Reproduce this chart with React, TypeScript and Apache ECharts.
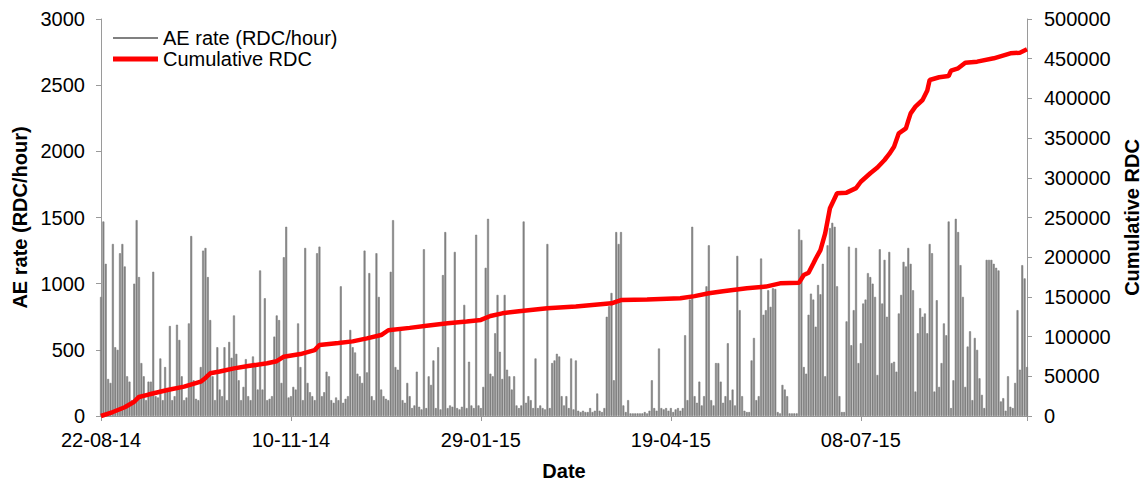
import React, { useEffect, useRef } from 'react';
import * as echarts from 'echarts';

// x axis: days since 22-08-14, a tick every 80 days
const xTickLabels = ['22-08-14', '10-11-14', '29-01-15', '19-04-15', '08-07-15'];

// AE rate (RDC/hour), one value per day (day 0 .. 390)
const aeRate = [
  900, 1470, 1150, 280, 250, 1300, 520, 500, 1230, 1300, // d0
  1130, 300, 260, 120, 1000, 1480, 1050, 400, 300, 120, // d10
  260, 260, 1090, 150, 140, 435, 120, 370, 200, 680, // d20
  120, 150, 690, 575, 300, 120, 140, 700, 1360, 270, // d30
  130, 120, 370, 1250, 1270, 1050, 725, 300, 120, 520, // d40
  200, 150, 520, 120, 560, 440, 760, 470, 270, 120, // d50
  220, 430, 150, 120, 450, 380, 200, 1100, 200, 890, // d60
  120, 130, 150, 600, 760, 725, 250, 1200, 1430, 140, // d70
  150, 220, 200, 700, 370, 120, 1270, 250, 180, 150, // d80
  120, 1230, 1280, 150, 180, 335, 300, 120, 100, 140, // d90
  120, 980, 100, 130, 150, 650, 520, 480, 320, 300, // d100
  250, 1250, 330, 1080, 150, 120, 1230, 900, 200, 150, // d110
  130, 120, 1090, 1480, 370, 350, 650, 120, 100, 250, // d120
  150, 60, 80, 335, 70, 50, 1260, 60, 300, 235, // d130
  420, 60, 520, 50, 1065, 1390, 60, 80, 70, 1240, // d140
  60, 50, 70, 840, 60, 410, 80, 60, 1370, 80, // d150
  60, 220, 1120, 1490, 320, 300, 625, 915, 485, 280, // d160
  915, 350, 300, 200, 300, 80, 60, 80, 1470, 100, // d170
  150, 120, 60, 435, 60, 80, 60, 50, 1300, 60, // d180
  400, 420, 470, 450, 150, 80, 150, 60, 435, 50, // d190
  420, 40, 30, 40, 30, 30, 60, 30, 40, 170, // d200
  40, 30, 60, 750, 830, 930, 270, 1390, 1300, 1390, // d210
  80, 30, 120, 20, 20, 20, 20, 20, 20, 30, // d220
  20, 40, 270, 60, 40, 510, 60, 50, 60, 40, // d230
  60, 30, 50, 60, 40, 60, 610, 120, 880, 1430, // d240
  150, 100, 260, 80, 150, 980, 1290, 120, 80, 400, // d250
  400, 260, 100, 150, 550, 120, 200, 80, 1210, 800, // d260
  150, 40, 30, 30, 420, 590, 120, 150, 1190, 765, // d270
  800, 950, 825, 965, 960, 30, 20, 235, 200, 150, // d280
  20, 20, 20, 20, 1410, 1330, 370, 320, 765, 925, // d290
  880, 675, 990, 920, 1150, 300, 1290, 1420, 1460, 1430, // d300
  980, 150, 30, 30, 715, 1280, 535, 800, 1270, 400, // d310
  550, 850, 880, 1080, 1050, 1000, 900, 310, 1260, 850, // d320
  1180, 750, 1240, 400, 410, 335, 775, 915, 1165, 1130, // d330
  1270, 1150, 950, 185, 625, 815, 750, 775, 625, 1300, // d340
  1230, 185, 875, 220, 400, 700, 610, 1470, 60, 270, // d350
  1490, 1390, 1140, 900, 220, 525, 640, 120, 590, 500, // d360
  285, 160, 60, 1180, 1180, 1180, 1150, 1120, 1100, 110, // d370
  135, 40, 300, 70, 60, 250, 800, 350, 1140, 1040, // d380
  370, // d390
];

// Cumulative RDC, read at these days
const cumDays = [
  0, 5, 10, 14, 16, 20, 28, 35, 42, 44, 46, 50, 56, 62, 70, 74, 77, 84, 90, 92,
  100, 106, 112, 118, 121, 130, 138, 146, 154, 160, 164, 169, 176, 188, 200, 215, 219, 230, 244, 250,
  256, 262, 272, 280, 286, 294, 296, 298, 300, 301, 303, 305, 307, 308, 310, 314, 318, 320, 324, 327,
  330, 332, 334, 336, 339, 340, 341, 343, 346, 348, 349, 353, 357, 358, 361, 364, 369, 376, 383, 387, 390,
];
const cumValues = [
  0, 5000, 11000, 18000, 24000, 27000, 32700, 37000, 43200, 48000, 53800, 56000, 60000, 63000, 66400, 69000, 74700, 78000, 83000, 89400,
  92000, 94000, 97800, 102000, 108000, 111000, 114000, 116700, 119000, 121000, 126000, 129300, 132000, 135600, 138000, 141900, 146000, 146800, 148200, 151000,
  154500, 157000, 160800, 163000, 167100, 167900, 177600, 180500, 192000, 198000, 209000, 230000, 261600, 268000, 280500, 281300, 287000, 295000, 305700, 313000,
  322400, 330000, 339200, 356000, 362300, 372000, 381200, 389600, 398000, 410000, 423200, 426600, 428200, 434900, 437900, 445000, 446300, 450500, 456800, 457600, 461800,
];

const FONT = '"Liberation Sans", Arial, sans-serif';
const AXIS_COLOR = '#9a9a9a';

export default function App() {
  const ref = useRef<HTMLDivElement>(null);
  useEffect(() => {
    if (!ref.current) return;
    const chart = echarts.init(ref.current, null, { renderer: 'svg' });
    chart.setOption({
      animation: false,
      backgroundColor: '#ffffff',
      textStyle: { fontFamily: FONT },
      grid: { left: 101, right: 118, top: 19, bottom: 67, containLabel: false, outerBoundsMode: 'none' },
      legend: {
        orient: 'vertical',
        left: 108,
        top: 23,
        itemWidth: 45,
        itemHeight: 14,
        itemGap: 1,
        textStyle: { fontSize: 20, color: '#000', lineHeight: 20, fontFamily: FONT },
        data: [
          { name: 'AE rate (RDC/hour)', icon: 'path://M0 0H45V2H0Z', itemStyle: { color: '#808080', borderWidth: 0 } },
          { name: 'Cumulative RDC', icon: 'path://M0 0H45V5H0Z', itemStyle: { color: '#ff0000' } },
        ],
      },
      xAxis: {
        type: 'value',
        min: 0,
        max: 390,
        interval: 80,
        name: 'Date',
        nameLocation: 'middle',
        nameGap: 45,
        nameTextStyle: { fontWeight: 'bold', fontSize: 20, color: '#000', fontFamily: FONT },
        axisLine: { show: true, lineStyle: { color: AXIS_COLOR, width: 1 } },
        axisTick: { show: true, length: 5, lineStyle: { color: AXIS_COLOR } },
        axisLabel: {
          fontSize: 20,
          color: '#000',
          margin: 14,
          formatter: (v: number) => (v % 80 === 0 && xTickLabels[v / 80] ? xTickLabels[v / 80] : ''),
        },
        splitLine: { show: false },
      },
      yAxis: [
        {
          type: 'value',
          min: 0,
          max: 3000,
          interval: 500,
          position: 'left',
          name: 'AE rate (RDC/hour)',
          nameLocation: 'middle',
          nameRotate: 90,
          nameGap: 60,
          nameTextStyle: { fontWeight: 'bold', fontSize: 20, color: '#000', fontFamily: FONT },
          axisLine: { show: true, lineStyle: { color: AXIS_COLOR, width: 1 } },
          axisTick: { show: true, length: 5, lineStyle: { color: AXIS_COLOR } },
          axisLabel: { fontSize: 20, color: '#000', margin: 16, formatter: (v: number) => String(v) },
          splitLine: { show: false },
        },
        {
          type: 'value',
          min: 0,
          max: 500000,
          interval: 50000,
          position: 'right',
          name: 'Cumulative RDC',
          nameLocation: 'middle',
          nameRotate: 90,
          nameGap: 86,
          nameTextStyle: { fontWeight: 'bold', fontSize: 20, color: '#000', fontFamily: FONT },
          axisLine: { show: true, lineStyle: { color: AXIS_COLOR, width: 1 } },
          axisTick: { show: true, length: 5, lineStyle: { color: AXIS_COLOR } },
          axisLabel: { fontSize: 20, color: '#000', margin: 17, formatter: (v: number) => String(v) },
          splitLine: { show: false },
        },
      ],
      series: [
        {
          name: 'AE rate (RDC/hour)',
          type: 'bar',
          yAxisIndex: 0,
          barWidth: 2,
          itemStyle: { color: '#808080', borderColor: '#808080', borderWidth: 0.6 },
          data: aeRate.map((v, i) => [i, v]),
          z: 2,
        },
        {
          name: 'Cumulative RDC',
          type: 'line',
          yAxisIndex: 1,
          symbol: 'none',
          itemStyle: { color: '#ff0000' },
          lineStyle: { color: '#ff0000', width: 4.5 },
          data: cumDays.map((d, i) => [d, cumValues[i]]),
          z: 3,
        },
      ],
    });
    return () => chart.dispose();
  }, []);
  return (
    <div
      ref={ref}
      style={{ position: 'fixed', left: 0, top: 0, width: 1145, height: 483 }}
    />
  );
}
